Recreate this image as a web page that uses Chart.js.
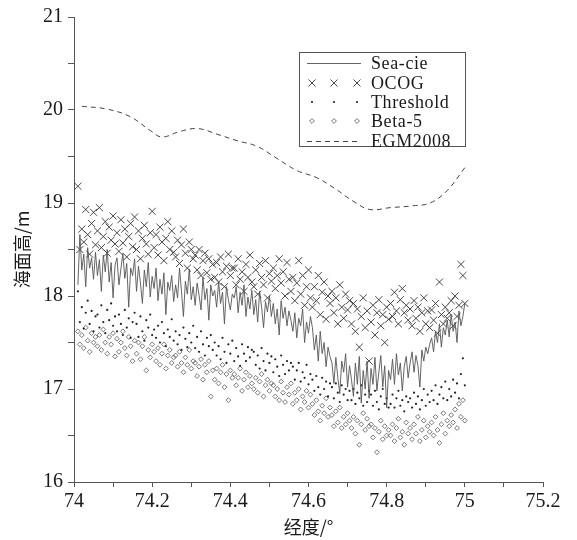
<!DOCTYPE html>
<html>
<head>
<meta charset="utf-8">
<script src="https://cdn.jsdelivr.net/npm/chart.js@4.4.1/dist/chart.umd.min.js"></script>
<style>
  html, body { margin: 0; padding: 0; background: #fff; }
  #wrap { width: 577px; height: 540px; }
</style>
</head>
<body>
<div id="wrap"><canvas id="chart"></canvas></div>
<script>
// along-track longitude of each waveform (deg)
const lon = [
  74.01, 74.015, 74.02, 74.025, 74.03, 74.035, 74.04, 74.045, 74.05, 74.055,
  74.06, 74.065, 74.07, 74.075, 74.08, 74.085, 74.09, 74.095, 74.1, 74.105,
  74.11, 74.115, 74.12, 74.125, 74.13, 74.135, 74.14, 74.145, 74.15, 74.155,
  74.16, 74.165, 74.17, 74.175, 74.18, 74.185, 74.19, 74.195, 74.2, 74.205,
  74.21, 74.215, 74.22, 74.225, 74.23, 74.235, 74.24, 74.245, 74.25, 74.255,
  74.26, 74.265, 74.27, 74.275, 74.28, 74.285, 74.29, 74.295, 74.3, 74.305,
  74.31, 74.315, 74.32, 74.325, 74.33, 74.335, 74.34, 74.345, 74.35, 74.355,
  74.36, 74.365, 74.37, 74.375, 74.38, 74.385, 74.39, 74.395, 74.4, 74.405,
  74.41, 74.415, 74.42, 74.425, 74.43, 74.435, 74.44, 74.445, 74.45, 74.455,
  74.46, 74.465, 74.47, 74.475, 74.48, 74.485, 74.49, 74.495, 74.5, 74.505,
  74.51, 74.515, 74.52, 74.525, 74.53, 74.535, 74.54, 74.545, 74.55, 74.555,
  74.56, 74.565, 74.57, 74.575, 74.58, 74.585, 74.59, 74.595, 74.6, 74.605,
  74.61, 74.615, 74.62, 74.625, 74.63, 74.635, 74.64, 74.645, 74.65, 74.655,
  74.66, 74.665, 74.67, 74.675, 74.68, 74.685, 74.69, 74.695, 74.7, 74.705,
  74.71, 74.715, 74.72, 74.725, 74.73, 74.735, 74.74, 74.745, 74.75, 74.755,
  74.76, 74.765, 74.77, 74.775, 74.78, 74.785, 74.79, 74.795, 74.8, 74.805,
  74.81, 74.815, 74.82, 74.825, 74.83, 74.835, 74.84, 74.845, 74.85, 74.855,
  74.86, 74.865, 74.87, 74.875, 74.88, 74.885, 74.89, 74.895, 74.9, 74.905,
  74.91, 74.915, 74.92, 74.925, 74.93, 74.935, 74.94, 74.945, 74.95, 74.955,
  74.96, 74.965, 74.97, 74.975, 74.98, 74.985, 74.99, 74.995, 75.0
];

// sea surface height (m) from each retracker
const seaCie = [
  18.12, 18.66, 18.28, 18.45, 18.10, 18.52, 18.30, 18.41, 18.18, 18.47,
  18.22, 18.39, 18.05, 18.44, 18.26, 18.50, 18.15, 18.36, 17.98, 18.33,
  18.41, 18.12, 18.29, 18.46, 18.19, 18.35, 17.88, 18.30, 18.22, 18.40,
  18.05, 18.32, 18.14, 17.92, 18.28, 18.10, 18.36, 17.99, 18.21, 18.08,
  18.30, 17.95, 18.18, 18.02, 18.25, 17.80, 18.15, 18.06, 18.22, 17.94,
  18.12, 17.98, 18.30, 18.05, 17.78, 18.16, 18.02, 18.29, 17.96, 18.10,
  17.90, 18.14, 18.01, 17.85, 18.20, 17.96, 18.08, 17.74, 18.12, 18.00,
  18.06, 17.88, 18.15, 17.92, 18.04, 17.70, 18.10, 17.96, 17.85, 18.02,
  17.98, 18.10, 17.82, 18.04, 17.90, 18.12, 17.78, 17.99, 17.86, 18.06,
  17.80, 17.96, 17.72, 18.05, 17.88, 17.66, 17.94, 17.83, 18.00, 17.78,
  17.92, 17.70, 17.86, 17.58, 17.95, 17.76, 17.88, 17.68, 17.84, 17.74,
  17.62, 17.82, 17.55, 17.76, 17.68, 17.86, 17.50, 17.72, 17.60, 17.78,
  17.66, 17.42, 17.58, 17.30, 17.62, 17.38, 17.50, 17.24, 17.45, 17.35,
  17.28, 17.06, 17.34, 17.12, 16.95, 17.30, 17.18, 17.38, 17.02, 17.25,
  17.10, 16.92, 17.28, 17.05, 17.35, 16.85, 17.20, 17.00, 17.30, 16.90,
  17.22, 17.05, 17.34, 16.98, 17.18, 17.36, 17.02, 17.25, 16.80, 17.20,
  17.10, 17.32, 17.05, 17.38, 17.15, 17.28, 16.98, 17.24, 17.35, 17.12,
  17.28, 17.40, 17.18, 17.36, 17.25, 17.02, 17.42, 17.30, 17.45, 17.38,
  17.48, 17.55, 17.40, 17.62, 17.50, 17.70, 17.45, 17.66, 17.58, 17.74,
  17.56, 17.80, 17.62, 17.72, 17.50, 17.84, 17.68, 17.78, 17.92
];

const ocog = [
  19.18, 18.50, 18.72, 18.58, 18.93, 18.66, 18.45, 18.78, 18.90, 18.55,
  18.70, 18.95, 18.52, 18.64, 18.80, 18.46, 18.74, 18.60, 18.86, 18.56,
  18.68, 18.48, 18.82, 18.57, 18.72, 18.42, 18.64, 18.78, 18.53, 18.85,
  18.50, 18.70, 18.40, 18.62, 18.76, 18.56, 18.45, 18.68, 18.91, 18.52,
  18.66, 18.44, 18.74, 18.58, 18.38, 18.62, 18.80, 18.50, 18.70, 18.47,
  18.42, 18.60, 18.35, 18.55, 18.72, 18.46, 18.30, 18.58, 18.50, 18.40,
  18.44, 18.28, 18.50, 18.22, 18.38, 18.46, 18.25, 18.40, 18.18, 18.34,
  18.20, 18.36, 18.15, 18.42, 18.26, 18.10, 18.32, 18.45, 18.22, 18.30,
  18.30, 18.12, 18.40, 18.18, 18.26, 18.05, 18.34, 18.20, 18.44, 18.15,
  18.10, 18.28, 18.02, 18.35, 18.20, 18.12, 18.38, 17.98, 18.24, 18.16,
  18.30, 18.08, 18.22, 18.40, 18.14, 18.26, 18.00, 18.36, 18.18, 18.05,
  18.20, 17.95, 18.14, 18.38, 18.02, 18.22, 17.90, 18.10, 18.28, 17.98,
  17.88, 18.10, 17.95, 18.22, 17.80, 18.04, 18.15, 17.75, 18.00, 17.92,
  18.05, 17.82, 17.98, 17.70, 18.12, 17.88, 17.76, 18.02, 17.85, 17.95,
  17.70, 17.92, 17.62, 17.86, 17.45, 17.78, 17.98, 17.66, 17.84, 17.30,
  17.72, 17.90, 17.58, 17.82, 17.96, 17.68, 17.80, 17.50, 17.88, 17.75,
  17.92, 17.78, 18.04, 17.84, 17.70, 17.96, 18.08, 17.82, 17.90, 17.74,
  17.86, 17.68, 17.95, 17.76, 17.88, 17.62, 17.82, 17.98, 17.70, 17.84,
  17.66, 17.85, 17.74, 17.92, 17.60, 18.15, 17.80, 17.70, 17.88, 17.76,
  17.82, 17.95, 17.68, 18.00, 17.78, 17.90, 18.34, 18.22, 17.92
];

const threshold = [
  18.05, 17.72, 17.88, 17.65, 17.82, 17.95, 17.70, 17.84, 17.62, 17.78,
  17.80, 17.66, 17.90, 17.72, 17.60, 17.85, 17.74, 17.92, 17.68, 17.78,
  17.62, 17.80, 17.70, 17.58, 17.85, 17.66, 17.76, 17.55, 17.72, 17.82,
  17.70, 17.56, 17.78, 17.62, 17.52, 17.74, 17.66, 17.80, 17.58, 17.64,
  17.55, 17.68, 17.50, 17.72, 17.60, 17.46, 17.64, 17.56, 17.75, 17.52,
  17.62, 17.48, 17.58, 17.42, 17.66, 17.54, 17.45, 17.60, 17.50, 17.68,
  17.44, 17.56, 17.40, 17.62, 17.48, 17.36, 17.55, 17.46, 17.58, 17.42,
  17.50, 17.36, 17.46, 17.32, 17.55, 17.40, 17.28, 17.48, 17.38, 17.52,
  17.30, 17.44, 17.35, 17.25, 17.48, 17.38, 17.30, 17.45, 17.34, 17.42,
  17.40, 17.26, 17.36, 17.22, 17.44, 17.30, 17.20, 17.38, 17.28, 17.35,
  17.18, 17.32, 17.24, 17.14, 17.36, 17.26, 17.16, 17.30, 17.20, 17.28,
  17.24, 17.10, 17.20, 17.28, 17.08, 17.18, 17.12, 17.26, 17.05, 17.16,
  17.10, 16.98, 17.14, 17.02, 16.94, 17.12, 17.00, 17.08, 16.92, 17.06,
  17.02, 16.90, 17.06, 16.96, 16.86, 17.04, 16.94, 17.00, 16.88, 16.98,
  16.88, 17.00, 16.84, 16.96, 16.90, 17.04, 16.82, 16.94, 16.86, 16.98,
  16.94, 16.82, 16.98, 16.86, 16.78, 16.92, 17.00, 16.84, 16.90, 16.80,
  16.84, 16.94, 16.80, 16.90, 16.98, 16.82, 16.88, 16.76, 16.92, 16.86,
  16.90, 16.80, 16.96, 16.84, 16.92, 16.78, 16.88, 17.00, 16.82, 16.94,
  16.86, 16.98, 16.88, 17.04, 16.84, 16.94, 17.02, 16.90, 17.08, 16.88,
  17.00, 16.92, 17.10, 16.96, 17.06, 16.90, 17.16, 17.33, 17.04
];

const beta5 = [
  17.62, 17.48, 17.58, 17.44, 17.66, 17.52, 17.40, 17.60, 17.50, 17.56,
  17.46, 17.58, 17.42, 17.64, 17.50, 17.38, 17.56, 17.48, 17.60, 17.35,
  17.54, 17.40, 17.50, 17.62, 17.44, 17.36, 17.56, 17.46, 17.30, 17.52,
  17.38, 17.50, 17.32, 17.46, 17.56, 17.20, 17.42, 17.34, 17.48, 17.40,
  17.30, 17.44, 17.26, 17.38, 17.48, 17.22, 17.36, 17.42, 17.28, 17.34,
  17.36, 17.24, 17.40, 17.28, 17.18, 17.34, 17.26, 17.42, 17.22, 17.30,
  17.28, 17.14, 17.24, 17.32, 17.10, 17.26, 17.18, 17.30, 16.92, 17.20,
  17.10, 17.22, 17.06, 17.18, 17.26, 17.02, 17.16, 16.88, 17.20, 17.12,
  17.16, 17.04, 17.12, 17.22, 16.98, 17.10, 17.18, 17.02, 17.14, 17.06,
  17.00, 17.12, 16.96, 17.08, 17.16, 16.92, 17.04, 17.10, 16.98, 17.06,
  17.04, 16.92, 17.00, 16.88, 17.08, 16.96, 16.86, 17.02, 16.94, 17.06,
  16.84, 16.96, 16.88, 17.00, 16.78, 16.92, 16.86, 16.98, 16.80, 16.94,
  16.84, 16.72, 16.88, 16.76, 16.66, 16.82, 16.74, 16.90, 16.70, 16.80,
  16.72, 16.60, 16.76, 16.64, 16.80, 16.58, 16.70, 16.62, 16.74, 16.66,
  16.58, 16.70, 16.52, 16.66, 16.40, 16.62, 16.74, 16.56, 16.68, 16.60,
  16.62, 16.48, 16.58, 16.32, 16.54, 16.66, 16.46, 16.60, 16.50, 16.56,
  16.50, 16.62, 16.44, 16.58, 16.68, 16.48, 16.54, 16.40, 16.64, 16.52,
  16.58, 16.46, 16.62, 16.52, 16.70, 16.44, 16.56, 16.66, 16.48, 16.60,
  16.54, 16.64, 16.50, 16.70, 16.56, 16.42, 16.62, 16.74, 16.52, 16.66,
  16.60, 16.72, 16.64, 16.78, 16.58, 16.84, 16.70, 16.88, 16.66
];

// geoid model along the track
const egmLon = [74.02, 74.084, 74.143, 74.195, 74.225, 74.271, 74.317, 74.366, 74.417, 74.468,
  74.519, 74.57, 74.622, 74.673, 74.714, 74.757, 74.809, 74.867, 74.911, 74.954, 75.0];
const egmHeight = [20.04, 20.01, 19.93, 19.78, 19.71, 19.77, 19.80, 19.74, 19.67, 19.61,
  19.48, 19.35, 19.27, 19.14, 19.02, 18.93, 18.95, 18.97, 19.00, 19.13, 19.38];

const seriesNames = ['Sea-cie', 'OCOG', 'Threshold', 'Beta-5', 'EGM2008'];

function pairs(xs, ys) {
  return xs.map((x, i) => ({ x: x, y: ys[i] }));
}

const serif = '"Liberation Serif", "Times New Roman", serif';
const cjk = '"Noto Sans CJK SC", sans-serif';

// draw one legend marker the same way the points look
function marker(ctx, ds, x, y) {
  const r = ds.pointRadius;
  ctx.beginPath();
  if (ds.pointStyle === 'crossRot') {
    const d = r * Math.SQRT1_2;
    ctx.moveTo(x - d, y - d); ctx.lineTo(x + d, y + d);
    ctx.moveTo(x - d, y + d); ctx.lineTo(x + d, y - d);
    ctx.stroke();
  } else if (ds.pointStyle === 'rectRot') {
    ctx.moveTo(x, y - r); ctx.lineTo(x + r, y); ctx.lineTo(x, y + r); ctx.lineTo(x - r, y);
    ctx.closePath();
    ctx.stroke();
  } else {
    ctx.arc(x, y, r, 0, Math.PI * 2);
    ctx.fill();
  }
}

// boxed legend inside the plot
const boxLegend = {
  id: 'boxLegend',
  afterDraw(chart) {
    const ctx = chart.ctx;
    const left = 299, top = 52, w = 166, h = 94;
    const rows = [63, 83, 102, 121, 141];
    ctx.save();
    ctx.fillStyle = '#fff';
    ctx.fillRect(left, top, w, h);
    ctx.strokeStyle = '#555';
    ctx.lineWidth = 1;
    ctx.strokeRect(left + 0.5, top + 0.5, w, h);

    chart.data.datasets.forEach((ds, i) => {
      const y = rows[i];
      ctx.strokeStyle = ds.borderColor;
      ctx.fillStyle = ds.backgroundColor;
      ctx.lineWidth = ds.borderWidth;
      if (ds.showLine) {
        ctx.setLineDash(ds.borderDash || []);
        ctx.beginPath();
        ctx.moveTo(307, y + 0.5);
        ctx.lineTo(361, y + 0.5);
        ctx.stroke();
        ctx.setLineDash([]);
      } else {
        [312, 334, 357].forEach(x => marker(ctx, ds, x, y));
      }
      ctx.fillStyle = '#1a1a1a';
      ctx.font = '18px ' + serif;
      ctx.letterSpacing = '0.6px';
      ctx.textBaseline = 'middle';
      ctx.textAlign = 'left';
      ctx.fillText(ds.label, 371, y + 1);
    });
    ctx.restore();
  }
};

const axisGrey = '#555';

const config = {
  type: 'scatter',
  data: {
    datasets: [
      {
        label: seriesNames[0],
        data: pairs(lon, seaCie),
        showLine: true,
        borderColor: '#555',
        backgroundColor: '#555',
        borderWidth: 0.9,
        pointRadius: 0,
        tension: 0
      },
      {
        label: seriesNames[1],
        data: pairs(lon, ocog),
        showLine: false,
        pointStyle: 'crossRot',
        pointRadius: 5,
        borderColor: '#333',
        backgroundColor: '#333',
        borderWidth: 0.9
      },
      {
        label: seriesNames[2],
        data: pairs(lon, threshold),
        showLine: false,
        pointStyle: 'circle',
        pointRadius: 1.1,
        borderWidth: 0,
        borderColor: '#222',
        backgroundColor: '#222'
      },
      {
        label: seriesNames[3],
        data: pairs(lon, beta5),
        showLine: false,
        pointStyle: 'rectRot',
        pointRadius: 2.4,
        borderWidth: 0.8,
        borderColor: '#555',
        backgroundColor: 'rgba(0,0,0,0)'
      },
      {
        label: seriesNames[4],
        data: pairs(egmLon, egmHeight),
        showLine: true,
        borderColor: '#444',
        backgroundColor: '#444',
        borderWidth: 1,
        borderDash: [5, 4],
        pointRadius: 0,
        tension: 0.4
      }
    ]
  },
  options: {
    responsive: true,
    maintainAspectRatio: false,
    animation: false,
    layout: { padding: { top: 12, right: 34, bottom: 0, left: 0 } },
    plugins: {
      legend: { display: false },
      tooltip: { enabled: false }
    },
    scales: {
      x: {
        type: 'linear',
        min: 74,
        max: 75.2,
        afterFit: (scale) => { scale.height = 58; },
        border: { display: true, color: axisGrey, width: 1 },
        grid: { drawOnChartArea: false, drawTicks: true, tickLength: 5, color: axisGrey },
        ticks: {
          stepSize: 0.1,
          autoSkip: false,
          maxRotation: 0,
          padding: 3,
          color: '#1a1a1a',
          font: { family: serif, size: 20 },
          callback: (v, i) => (i % 2 === 0 ? String(Number(v.toFixed(1))) : '')
        },
        title: {
          display: true,
          text: '经度/°',
          color: '#1a1a1a',
          font: { family: cjk, size: 18 },
          padding: { top: 0, bottom: 2 }
        }
      },
      y: {
        min: 16,
        max: 21,
        afterFit: (scale) => { scale.width = 74; },
        border: { display: true, color: axisGrey, width: 1 },
        grid: { drawOnChartArea: false, drawTicks: true, tickLength: 6, color: axisGrey },
        ticks: {
          stepSize: 0.5,
          autoSkip: false,
          padding: 5,
          color: '#1a1a1a',
          font: { family: serif, size: 20 },
          callback: (v, i) => (i % 2 === 0 ? String(v) : '')
        },
        title: {
          display: true,
          text: '海面高/m',
          color: '#1a1a1a',
          font: { family: cjk, size: 18 },
          padding: { top: 11, bottom: 0 }
        }
      }
    }
  },
  plugins: [boxLegend]
};

const myChart = new Chart(document.getElementById('chart'), config);
</script>
</body>
</html>
